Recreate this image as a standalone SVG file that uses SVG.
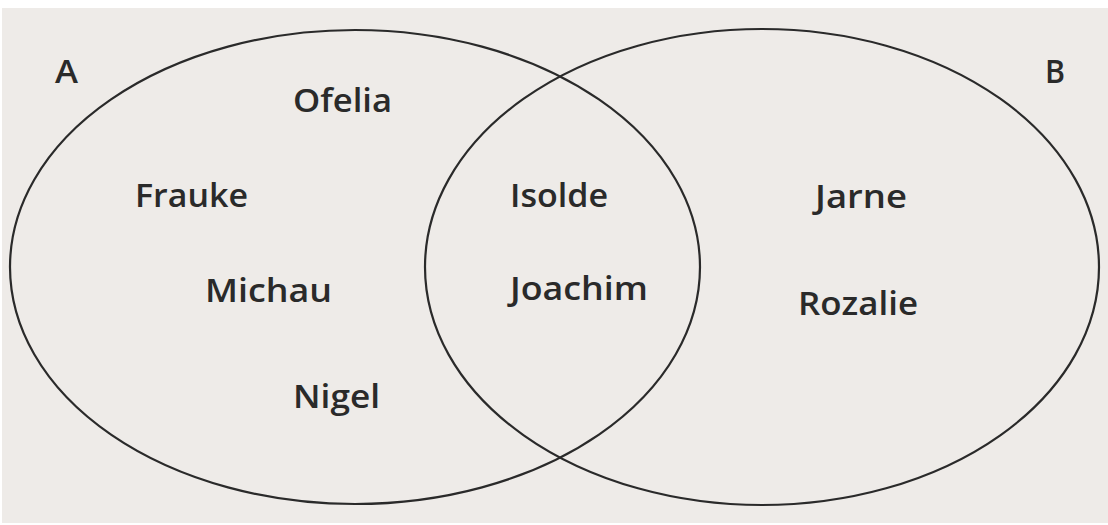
<svg xmlns="http://www.w3.org/2000/svg" width="1108" height="525" viewBox="0 0 1108 525">
<style>
.set{fill:none;stroke:#2a2a2a;stroke-width:2.2}
.lbl{font-family:"Open Sans","Liberation Sans",sans-serif;font-size:33px;font-weight:600;fill:#2a2a2a}
</style>
<rect x="0" y="0" width="1108" height="525" fill="#ffffff"/>
<rect x="2" y="8" width="1106" height="515" fill="#eeebe8"/>
<g id="setA">
<ellipse class="set" cx="355" cy="267" rx="345" ry="237"/>
<text class="lbl" x="55" y="83" textLength="23" lengthAdjust="spacingAndGlyphs">A</text>
</g>
<g id="setB">
<ellipse class="set" cx="762" cy="267" rx="337" ry="238"/>
<text class="lbl" x="1045" y="83" textLength="20" lengthAdjust="spacingAndGlyphs">B</text>
</g>
<g id="nodes">
<text id="ofelia" class="lbl" x="293" y="112" textLength="99" lengthAdjust="spacingAndGlyphs">Ofelia</text>
<text id="frauke" class="lbl" x="135" y="207" textLength="113" lengthAdjust="spacingAndGlyphs">Frauke</text>
<text id="michau" class="lbl" x="205" y="302" textLength="127" lengthAdjust="spacingAndGlyphs">Michau</text>
<text id="nigel" class="lbl" x="293" y="408" textLength="87" lengthAdjust="spacingAndGlyphs">Nigel</text>
<text id="isolde" class="lbl" x="510" y="207" textLength="98" lengthAdjust="spacingAndGlyphs">Isolde</text>
<text id="joachim" class="lbl" x="510" y="300" textLength="138" lengthAdjust="spacingAndGlyphs">Joachim</text>
<text id="jarne" class="lbl" x="815" y="208" textLength="92" lengthAdjust="spacingAndGlyphs">Jarne</text>
<text id="rozalie" class="lbl" x="798" y="315" textLength="120" lengthAdjust="spacingAndGlyphs">Rozalie</text>
</g>
<g id="connectors"></g>
</svg>
